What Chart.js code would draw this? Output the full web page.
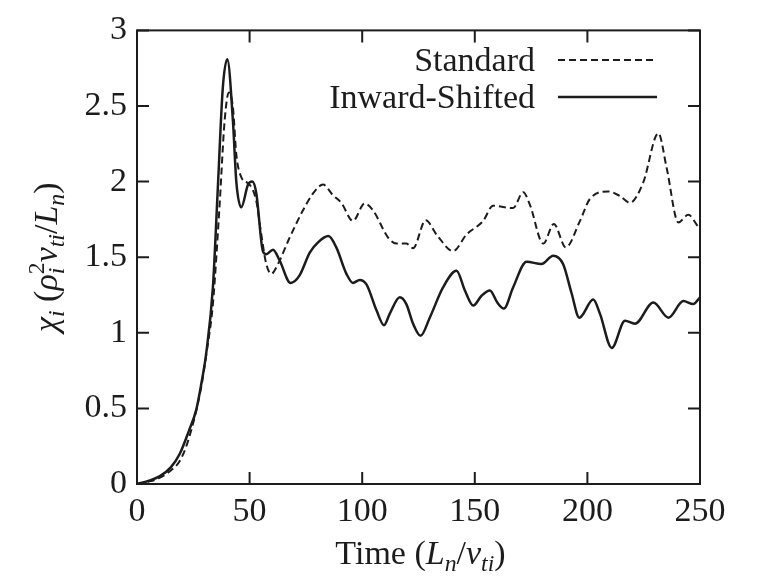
<!DOCTYPE html>
<html>
<head>
<meta charset="utf-8">
<script src="https://cdn.jsdelivr.net/npm/chart.js@4.4.1/dist/chart.umd.min.js"></script>
<style>
  html, body { margin: 0; background: #fff; }
</style>
</head>
<body>
<canvas id="chiChart" width="758" height="585"></canvas>
<script>
// values
const seriesNames = ["Standard", "Inward-Shifted"];

const stdTime = [0, 5, 10, 15, 18.9, 23, 28.5, 31, 33.7, 36.7, 38.9, 40.8, 42.6, 44.1, 46.3, 50, 53, 55.2, 57.4, 59.6,
  62.6, 67.8, 73.7, 78.1, 82.6, 87, 90.7, 95.9, 101.1, 104.8, 111.5, 115.2, 119.6, 122.6, 128.2, 133, 140.4, 146.3,
  153.7, 158.1, 167, 171.5, 174.4, 180.4, 185.1, 190.4, 196.7, 201.1, 209.3, 214.4, 218.9, 224.8, 231.5, 235.2,
  240.4, 244.8, 249.3, 250];
const stdChi = [0, 0.015, 0.04, 0.09, 0.15, 0.3, 0.64, 0.88, 1.19, 1.85, 2.4, 2.59, 2.49, 2.18, 2.03, 1.98, 1.87, 1.65, 1.455, 1.39,
  1.455, 1.63, 1.81, 1.92, 1.98, 1.91, 1.86, 1.74, 1.855, 1.81, 1.63, 1.59, 1.59, 1.56, 1.745, 1.65, 1.54, 1.65,
  1.74, 1.84, 1.825, 1.93, 1.85, 1.59, 1.72, 1.565, 1.74, 1.885, 1.935, 1.905, 1.86, 1.995, 2.32, 2.09,
  1.73, 1.78, 1.7, 1.69];

const inwTime = [0, 5, 10, 15, 19, 23, 26.3, 29, 30.7, 33.7, 35.9, 38.1, 40.1, 42.6, 44.1, 46.3, 49.3, 51.2, 53, 55.9,
  57.4, 60.4, 63.3, 68.2, 72.2, 76.7, 80.5, 85, 88.5, 93, 95.9, 98.9, 101.9, 106.3, 109.7, 112.2, 116.7, 119.6,
  122.6, 125.9, 130, 135.9, 141.9, 145.6, 149.3, 153, 156.7, 160, 162.9, 167, 173, 179.6, 184.8, 189.2, 193,
  196.4, 202.6, 205.6, 210.8, 216.7, 221.1, 229.3, 236, 242.6, 247, 250];
const inwChi = [0, 0.02, 0.05, 0.11, 0.2, 0.35, 0.49, 0.7, 0.86, 1.3, 1.96, 2.62, 2.81, 2.4, 2.0, 1.83, 1.98, 2.0, 1.92, 1.54,
  1.52, 1.55, 1.48, 1.33, 1.38, 1.53, 1.6, 1.64, 1.565, 1.39, 1.33, 1.35, 1.32, 1.15, 1.05, 1.125, 1.235, 1.19,
  1.06, 0.98, 1.1, 1.3, 1.41, 1.28, 1.18, 1.245, 1.28, 1.2, 1.16, 1.3, 1.47, 1.455, 1.51, 1.455, 1.26,
  1.1, 1.22, 1.125, 0.9, 1.08, 1.06, 1.2, 1.1, 1.21, 1.19, 1.235];

const xTicks = [0, 50, 100, 150, 200, 250];
const yTicks = [0, 0.5, 1, 1.5, 2, 2.5, 3];

// axis titles as rich text pieces (italic / subscript / superscript)
const xTitle = [
  { t: "Time (" }, { t: "L", it: true }, { t: "n", it: true, sub: true }, { t: "/" },
  { t: "v", it: true }, { t: "ti", it: true, sub: true }, { t: ")" }
];
const yTitle = [
  { t: "χ", it: true }, { t: "i", it: true, sub: true }, { t: " (" }, { t: "ρ", it: true },
  { t: "2", sup: true, under: "i" }, { t: "v", it: true }, { t: "ti", it: true, sub: true },
  { t: "/" }, { t: "L", it: true }, { t: "n", it: true, sub: true }, { t: ")" }
];

const FONT = '"Liberation Serif", "Times New Roman", serif';
const INK = "#1c1c1c";
const SIZE = 34;

function segFont(s) {
  const sz = (s.sub || s.sup) ? SIZE * 0.7 : SIZE;
  return (s.it ? "italic " : "") + sz + "px " + FONT;
}

function segWidth(ctx, s) {
  ctx.font = segFont(s);
  let w = ctx.measureText(s.t).width;
  if (s.under) {
    ctx.font = "italic " + SIZE * 0.7 + "px " + FONT;
    w = Math.max(w, ctx.measureText(s.under).width);
  }
  return w;
}

function drawRich(ctx, segs, cx, baseY) {
  const total = segs.reduce((a, s) => a + segWidth(ctx, s), 0);
  let x = cx - total / 2;
  ctx.textAlign = "left";
  ctx.textBaseline = "alphabetic";
  segs.forEach(s => {
    const w = segWidth(ctx, s);
    ctx.font = segFont(s);
    let dy = 0;
    if (s.sub) dy = SIZE * 0.22;
    if (s.sup) dy = -SIZE * 0.38;
    ctx.fillText(s.t, x, baseY + dy);
    if (s.under) {
      ctx.font = "italic " + SIZE * 0.7 + "px " + FONT;
      ctx.fillText(s.under, x, baseY + SIZE * 0.22);
    }
    x += w;
  });
}

const framePlugin = {
  id: "frame",
  afterDraw(chart) {
    const { ctx, chartArea: a, scales } = chart;
    const tick = 12;
    ctx.save();
    ctx.strokeStyle = INK;
    ctx.lineWidth = 2;
    ctx.strokeRect(a.left, a.top, a.right - a.left, a.bottom - a.top);
    ctx.beginPath();
    scales.x.ticks.forEach(t => {
      const px = scales.x.getPixelForValue(t.value);
      ctx.moveTo(px, a.bottom); ctx.lineTo(px, a.bottom - tick);
      ctx.moveTo(px, a.top); ctx.lineTo(px, a.top + tick);
    });
    scales.y.ticks.forEach(t => {
      const py = scales.y.getPixelForValue(t.value);
      ctx.moveTo(a.left, py); ctx.lineTo(a.left + tick, py);
      ctx.moveTo(a.right, py); ctx.lineTo(a.right - tick, py);
    });
    ctx.stroke();

    // legend, text right-aligned with a line sample after it
    ctx.font = SIZE + "px " + FONT;
    ctx.fillStyle = INK;
    ctx.textAlign = "right";
    ctx.textBaseline = "alphabetic";
    const rows = [71, 108];
    chart.data.datasets.forEach((ds, i) => {
      ctx.fillText(ds.label, 535, rows[i]);
      ctx.beginPath();
      ctx.lineWidth = ds.borderWidth;
      ctx.setLineDash(ds.borderDash || []);
      ctx.moveTo(558, rows[i] - 11);
      ctx.lineTo(657, rows[i] - 11);
      ctx.stroke();
    });
    ctx.setLineDash([]);

    // axis titles
    drawRich(ctx, xTitle, (a.left + a.right) / 2 + 2, 564);
    ctx.translate(57, (a.top + a.bottom) / 2);
    ctx.rotate(-Math.PI / 2);
    drawRich(ctx, yTitle, 0, 0);
    ctx.restore();
  }
};

new Chart(document.getElementById("chiChart"), {
  type: "line",
  data: {
    datasets: [{
      label: seriesNames[0],
      data: stdTime.map((t, i) => ({ x: t, y: stdChi[i] })),
      borderColor: INK,
      borderWidth: 2,
      borderDash: [7, 4],
      pointRadius: 0,
      cubicInterpolationMode: "monotone",
      fill: false
    }, {
      label: seriesNames[1],
      data: inwTime.map((t, i) => ({ x: t, y: inwChi[i] })),
      borderColor: INK,
      borderWidth: 2.5,
      pointRadius: 0,
      cubicInterpolationMode: "monotone",
      fill: false
    }]
  },
  options: {
    responsive: false,
    animation: false,
    devicePixelRatio: 1,
    layout: { padding: { left: 0, top: 30, right: 58, bottom: 0 } },
    plugins: { legend: { display: false }, tooltip: { enabled: false } },
    scales: {
      x: {
        type: "linear",
        min: 0,
        max: 250,
        afterBuildTicks: s => { s.ticks = xTicks.map(v => ({ value: v })); },
        afterFit: s => { s.height = 585 - 484; },
        grid: { display: false, drawTicks: false },
        border: { display: false },
        ticks: {
          color: INK, padding: 8, maxRotation: 0,
          font: { family: FONT, size: SIZE },
          callback: v => String(v)
        }
      },
      y: {
        min: 0,
        max: 3,
        afterBuildTicks: s => { s.ticks = yTicks.map(v => ({ value: v })); },
        afterFit: s => { s.width = 137; },
        grid: { display: false, drawTicks: false },
        border: { display: false },
        ticks: {
          color: INK, padding: 10,
          font: { family: FONT, size: SIZE },
          callback: v => String(v)
        }
      }
    }
  },
  plugins: [framePlugin]
});
</script>
</body>
</html>
